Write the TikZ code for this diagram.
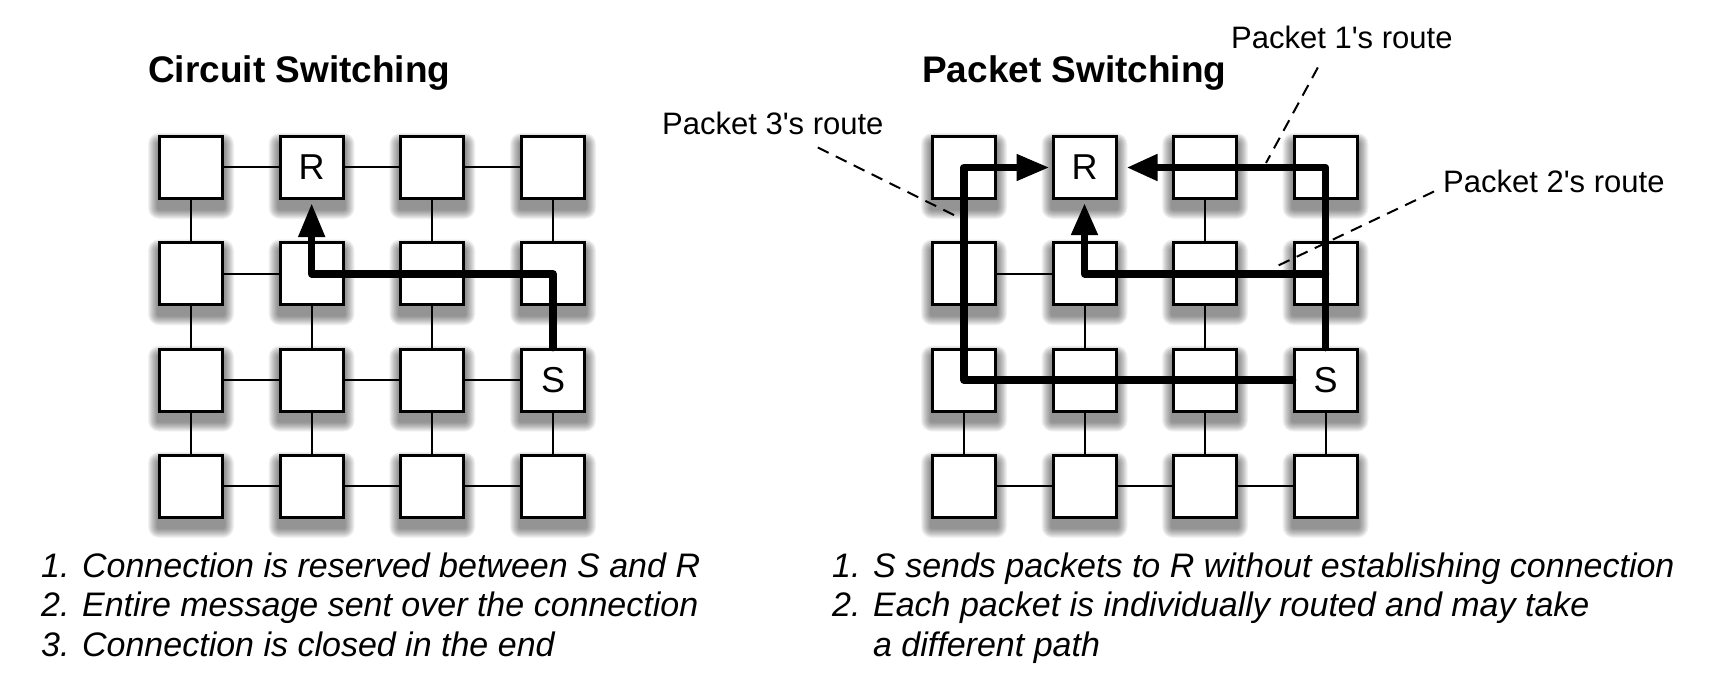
\documentclass[tikz,border=0pt]{standalone}
\usepackage{fontspec}
\setmainfont{Liberation Sans}
\usetikzlibrary{arrows.meta,calc}
\begin{document}
\begin{tikzpicture}[x=1pt,y=-1pt,
  box/.style={draw, line width=3pt, fill=white, minimum width=63pt, minimum height=62pt, inner sep=0pt},
  boxlbl/.style={font=\fontsize{36}{40}\selectfont, inner sep=0pt},
  link/.style={line width=2pt},
  route/.style={line width=7.5pt, line join=round, line cap=round},
  leader/.style={line width=2pt, dash pattern=on 12pt off 8pt},
  ttl/.style={font=\fontsize{37}{42}\selectfont\bfseries, anchor=base west, inner sep=0pt},
  lab/.style={font=\fontsize{31}{36}\selectfont, anchor=base west, inner sep=0pt},
  note/.style={font=\fontsize{34}{40}\selectfont\itshape, anchor=base west, inner sep=0pt},
  sh/.style={fill=black, opacity=0.052}
]
\useasboundingbox (0,0) rectangle (1714,690);
\fill[white] (0,0) rectangle (1714,690);

% shadows
\foreach \r in {1,...,4}{\foreach \c in {1,...,4}{
  \pgfmathsetmacro\xa{191+120.67*(\c-1)}
  \pgfmathsetmacro\xb{964+120.5*(\c-1)}
  \pgfmathsetmacro\yy{167.5+106.33*(\r-1)}
  \foreach \k in {0,...,9}{
    \fill[sh, rounded corners={(11-\k)*1pt}] (\xa-43+\k, \yy-34.5+\k) rectangle (\xa+43-\k, \yy+51.5-\k);
    \fill[sh, rounded corners={(11-\k)*1pt}] (\xb-43+\k, \yy-34.5+\k) rectangle (\xb+43-\k, \yy+51.5-\k);
  }
}}

% boxes
\foreach \r in {1,...,4}{\foreach \c in {1,...,4}{
  \pgfmathsetmacro\xa{191+120.67*(\c-1)}
  \pgfmathsetmacro\xb{964+120.5*(\c-1)}
  \pgfmathsetmacro\yy{167.5+106.33*(\r-1)}
  \node[box] (L\r\c) at (\xa,\yy) {};
  \node[box] (P\r\c) at (\xb,\yy) {};
}}
\node[boxlbl] (LR) at (L12) {R};
\node[boxlbl] (LS) at (L34) {S};
\node[boxlbl] (PR) at (P12) {R};
\node[boxlbl] (PS) at (P34) {S};

% left links
\foreach \a/\b in {11/12,12/13,13/14,21/22,31/32,32/33,33/34,41/42,42/43,43/44,
                   11/21,21/31,31/41,22/32,32/42,13/23,23/33,33/43,14/24,34/44}
  \draw[link] (L\a) -- (L\b);
% right links
\foreach \a/\b in {21/22,41/42,42/43,43/44,31/41,22/32,32/42,13/23,23/33,33/43,34/44}
  \draw[link] (P\a) -- (P\b);

% routes
\draw[route, -{Triangle[length=34pt,width=25pt]}, shorten >=3pt]
  (L34.north) -- (L34.north |- L22.center) -- (L22.center) -- (L12.south);
\draw[route, -{Triangle[length=31pt,width=25pt]}, shorten >=9pt]
  (P34.north) -- (P34.north |- P14.center) -- (P12.east);
\draw[route, -{Triangle[length=32pt,width=25pt]}, shorten >=3pt]
  (P34.north |- P24.center) -- (P22.center) -- (P12.south);
\draw[route, -{Triangle[length=33pt,width=25pt]}, shorten >=2pt]
  (P34.west) -- (P31.center) -- (P31.center |- P11.center) -- (P12.west);

% titles
\node[ttl] (t1) at (148,83) {Circuit Switching};
\node[ttl] (t2) at (922,83) {Packet Switching};

% route labels and leaders
\node[lab] (r3) at (662,135) {Packet 3\textquotesingle s route};
\node[lab] (r1) at (1231,49) {Packet 1\textquotesingle s route};
\node[lab] (r2) at (1443,193) {Packet 2\textquotesingle s route};
\coordinate (e3) at (964,220);
\coordinate (e1) at (1266,163);
\coordinate (e2) at (1273,268);
\draw[leader] ($(r3.south)+(45,12)$) -- (e3);
\draw[leader] ($(r1.south)+(-24,18)$) -- (e1);
\draw[leader] ($(r2.south west)+(-9,-2)$) -- (e2);

% notes
\node[note] (n1) at (41,577) {1. Connection is reserved between S and R};
\node[note] (n2) at (41,616) {2. Entire message sent over the connection};
\node[note] (n3) at (41,656) {3. Connection is closed in the end};
\node[note] (m1) at (832,577) {1. S sends packets to R without establishing connection};
\node[note] (m2) at (832,616) {2. Each packet is individually routed and may take};
\node[note] (m3) at (832,656) {\hphantom{2. }a different path};
\end{tikzpicture}
\end{document}
